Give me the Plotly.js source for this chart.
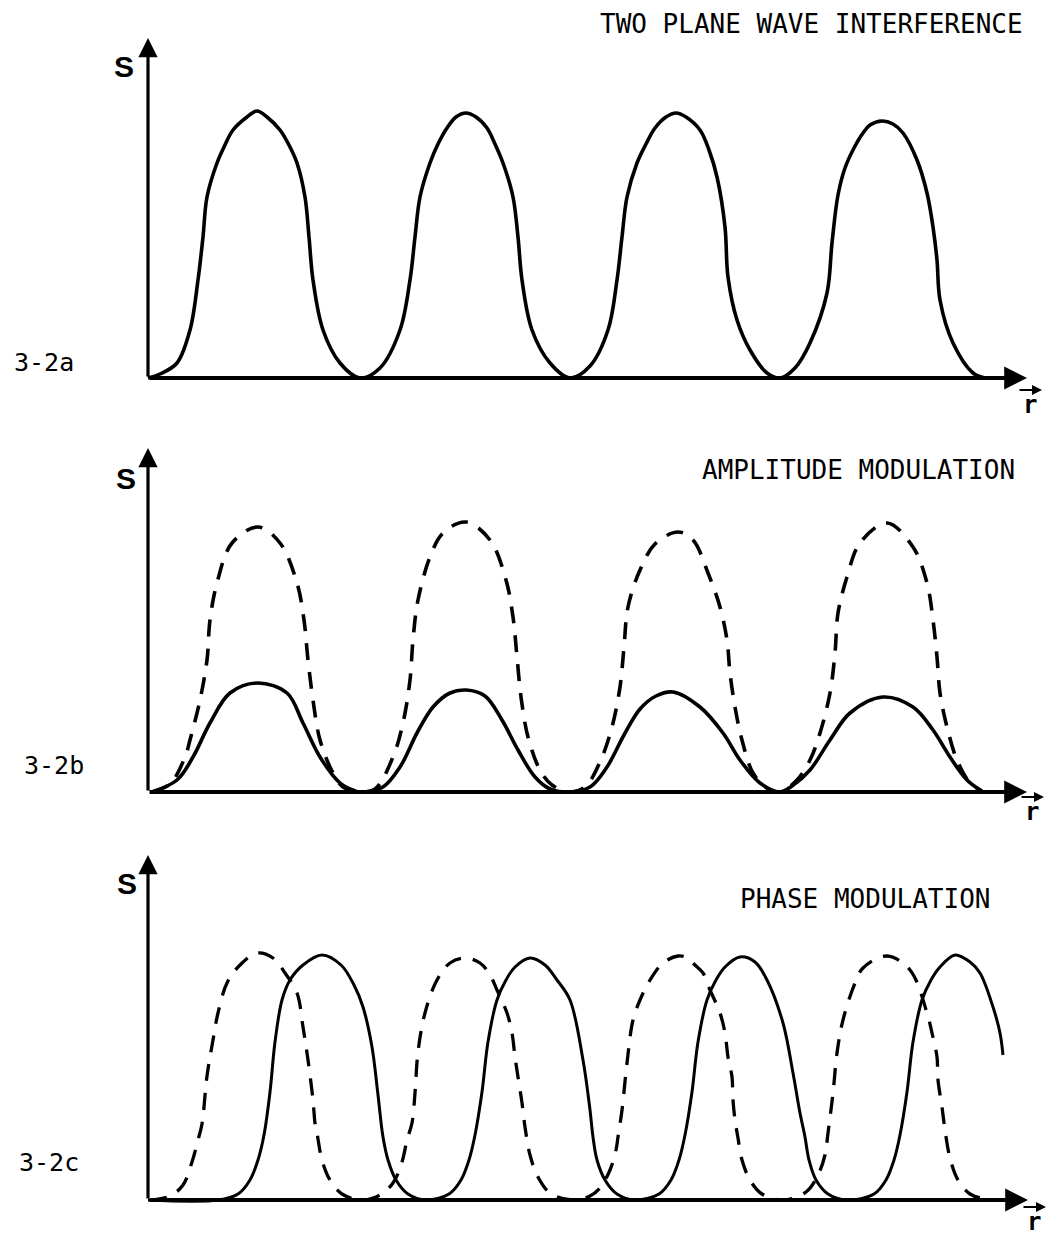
<!DOCTYPE html>
<html>
<head>
<meta charset="utf-8">
<script src="https://cdn.plot.ly/plotly-3.0.1.min.js"></script>
<style>html,body{margin:0;padding:0;background:#fff;}#chart{width:1048px;height:1238px;}</style>
</head>
<body>
<div id="chart"></div>
<script>
// ---- Data (r and S in arbitrary units) ----
// Panel 3-2a : two plane wave interference
const rA = [0,1.2,2.9,4.2,5.0,5.5,5.9,6.9,7.6,8.5,9.9,10.9,11.9,13.2,14.2,14.9,15.7,16.1,16.5,17.5,19.2,21.2,
  23.2,25.2,26.2,26.7,27.2,28.2,29.0,29.9,30.8,31.8,32.8,33.9,34.7,35.5,36.5,37.0,37.4,38.4,40.2,42.2,
  44.2,46.0,46.9,47.4,47.9,48.9,49.8,50.7,51.8,52.8,53.8,55.2,56.1,56.9,57.7,58.0,58.9,60.2,61.9,63.2,
  64.7,66.2,67.9,68.4,69.0,69.7,70.6,71.5,72.2,73.4,74.5,75.5,76.9,77.9,78.5,78.9,79.2,80.5,82.5,83.7];
const sA = [0,0.4,1.5,4.8,9.8,14.1,18.1,21.5,23.1,24.8,26.1,26.7,26.1,24.8,23.1,21.5,18.1,14.1,9.8,4.8,1.5,0,
  1.0,4.8,9.8,14.1,18.1,21.5,23.4,25.0,26.1,26.5,26.1,25.0,23.4,21.5,18.1,14.1,9.8,4.8,1.5,0,
  1.2,4.8,9.8,14.1,18.1,21.5,23.4,25.0,26.1,26.5,26.1,24.8,22.8,20.1,15.1,10.1,5.8,2.8,0.5,0,
  1.0,3.5,8.5,13.5,18.3,21.0,23.0,24.5,25.3,25.7,25.4,24.5,21.8,18.5,15.1,11.8,7.8,3.5,0.5,0];

// Panel 3-2b : amplitude modulation (dashed = unmodulated, solid = modulated)
const rBdash = [0.4,2.2,3.7,4.2,5.2,5.9,6.2,6.9,8.4,11.0,13.2,14.9,15.6,16.0,16.5,17.2,18.5,19.5,21.2,
  22.7,24.5,25.5,26.2,26.5,27.0,28.2,29.5,31.8,34.2,35.8,36.5,36.9,37.3,38.0,39.2,40.4,42.2,
  43.7,45.2,46.4,47.2,47.6,48.0,49.2,50.7,53.0,54.5,56.0,57.2,57.9,58.2,58.7,59.4,60.5,61.9,63.2,
  64.9,66.2,67.2,68.2,68.7,69.0,69.9,71.2,73.9,76.5,77.9,78.5,78.9,79.2,79.9,80.9,82.2,83.2,83.5];
const sBdash = [0,0.8,3.5,5.2,9.2,13.2,17.2,20.9,24.9,26.5,24.9,20.9,17.2,13.2,9.2,5.2,1.9,0.5,0,
  0.3,3.5,6.9,11.2,15.2,19.2,23.5,25.9,27.0,25.2,21.2,17.5,13.5,9.5,5.5,2.2,0.7,0,
  0.5,3.0,6.5,10.5,14.5,18.5,22.2,24.8,26.0,25.2,21.9,18.5,15.2,11.9,8.5,5.2,1.9,0.4,0,
  1.2,3.2,5.9,9.9,13.9,17.9,21.5,24.9,26.9,24.5,20.9,17.2,13.5,9.9,6.5,3.2,0.9,0.2,0];
const rBsolid = [0.4,2.9,4.5,6.2,8.2,11.0,13.9,15.5,17.2,19.2,20.5,21.2,
  23.5,25.2,26.9,28.5,30.2,31.8,33.7,35.4,37.0,38.7,40.2,42.0,
  44.2,45.9,47.6,49.2,50.8,52.5,55.2,57.5,59.2,61.2,63.2,
  64.4,66.2,68.2,70.2,73.5,76.5,78.5,80.2,81.9,83.2,83.5];
const sBsolid = [0,1.2,3.5,6.9,9.9,10.9,9.9,6.9,3.5,0.9,0.2,0,
  0.5,2.5,5.9,8.5,9.9,10.2,9.6,7.2,4.2,1.5,0.3,0,
  0.5,2.5,5.7,8.3,9.6,10.0,8.5,5.9,3.2,0.9,0,
  0.6,2.2,5.2,7.9,9.5,8.5,6.2,3.5,1.2,0.2,0];

// Panel 3-2c : phase modulation (dashed = reference, solid = shifted)
const rCdash = [0.2,2.2,3.5,4.4,5.0,5.4,5.9,6.5,7.0,7.9,9.2,10.9,12.5,13.7,14.9,15.5,16.0,16.5,16.7,16.9,17.4,18.2,19.4,21.4,
  23.2,24.5,25.4,25.9,26.4,26.7,27.0,27.7,28.9,30.2,31.7,33.2,34.2,34.9,35.9,36.4,36.7,37.0,37.4,37.7,38.2,39.0,40.2,42.4,
  44.2,45.2,46.2,46.8,47.0,47.4,47.9,48.5,49.2,50.2,51.5,53.0,54.0,54.7,55.5,56.2,57.2,57.7,58.0,58.4,58.5,58.7,59.0,59.4,60.2,61.4,63.5,
  65.8,67.0,67.7,68.0,68.5,68.9,69.5,70.7,71.5,73.9,76.2,77.9,78.4,78.9,79.0,79.4,79.7,80.2,81.0,82.2,84.2];
const sCdash = [0,0.4,1.5,3.8,6.0,7.6,12.4,16.0,18.7,21.7,23.5,24.7,24.2,22.7,20.7,17.3,14.0,10.0,7.7,6.7,4.0,2.0,0.6,0,
  0.5,1.7,3.8,6.0,7.7,10.7,14.8,18.7,22.0,23.7,24.2,23.7,22.5,21.0,18.7,16.7,14.3,12.3,9.7,7.3,4.5,2.3,0.7,0,
  0.4,1.2,3.0,5.0,6.3,9.0,13.7,18.0,20.0,22.0,23.7,24.4,24.2,23.5,22.7,21.0,18.7,16.7,14.3,12.3,10.0,8.0,6.2,4.0,2.0,0.6,0,
  0.8,2.5,4.5,6.7,10.7,14.7,18.0,21.7,23.2,24.4,23.0,18.7,16.7,14.3,12.0,9.3,7.0,4.2,2.0,0.6,0];
const rCsolid = [0,7.0,9.0,10.2,11.0,11.6,12.2,12.7,13.4,14.2,15.5,17.4,19.3,20.6,21.5,22.4,23.0,23.5,24.0,24.8,26.0,27.8,
  30.1,31.3,32.1,32.7,33.4,34.0,34.9,35.8,36.7,38.2,39.7,40.9,42.2,43.5,44.2,44.5,44.9,45.7,46.9,48.7,
  51.1,52.3,53.1,53.7,54.4,55.0,55.9,56.8,57.7,59.2,60.7,61.9,63.5,64.5,65.2,65.7,66.1,66.8,68.0,69.9,
  72.6,73.8,74.6,75.2,75.9,76.5,77.4,78.3,79.2,80.7,82.2,83.2,84.5,85.2,85.5];
const sCsolid = [0,0,0.6,2.0,4.0,6.5,10.8,15.8,20.0,22.0,23.5,24.5,23.5,21.5,19.3,15.3,10.5,6.3,4.0,2.0,0.6,0,
  0.6,2.0,4.0,6.5,10.8,15.8,20.0,22.0,23.3,24.2,23.5,22.0,20.0,14.0,9.0,6.3,4.0,2.0,0.6,0,
  0.6,2.0,4.0,6.5,10.8,15.8,20.0,22.0,23.3,24.3,23.8,22.0,17.7,12.7,8.7,6.3,4.0,2.0,0.6,0,
  0.6,2.0,4.0,6.5,10.8,15.8,20.0,22.0,23.3,24.5,23.8,22.7,19.3,16.7,14.5];

// Axis extents (arrow tips) per panel
const axTipR = [87.9, 87.9, 88.0];
const axTipS = [34.0, 34.4, 34.5];

// Texts
const titles = ["TWO PLANE WAVE INTERFERENCE", "AMPLITUDE MODULATION", "PHASE MODULATION"];
const panelLabels = ["3-2a", "3-2b", "3-2c"];
const yLabel = "S";
const xLabel = "r";

// ---- Layout helpers (pixel placement) ----
const W = 1048, H = 1238;
const px = x => x / W;
const py = y => 1 - y / H;
function yAxis(basePx, topPx, botPx) {
  return {
    domain: [1 - botPx / H, 1 - topPx / H],
    range: [(basePx - botPx) / 10, (basePx - topPx) / 10],
    visible: false, showgrid: false, zeroline: false, fixedrange: true
  };
}
function xAxis(anchor) {
  return { domain: [0, 1], range: [-14.8, 90], anchor: anchor,
    visible: false, showgrid: false, zeroline: false, fixedrange: true };
}

const solid = { color: '#000', width: 3.6, shape: 'spline', smoothing: 1 };
const dashed = { color: '#000', width: 3.6, shape: 'spline', smoothing: 1, dash: '17px,12px' };

const traces = [
  { x: rA, y: sA, xaxis: 'x', yaxis: 'y', mode: 'lines', line: solid, hoverinfo: 'skip' },
  { x: rBdash, y: sBdash, xaxis: 'x2', yaxis: 'y2', mode: 'lines', line: dashed, hoverinfo: 'skip' },
  { x: rBsolid, y: sBsolid, xaxis: 'x2', yaxis: 'y2', mode: 'lines', line: solid, hoverinfo: 'skip' },
  { x: rCdash, y: sCdash, xaxis: 'x3', yaxis: 'y3', mode: 'lines', line: Object.assign({}, dashed, {width: 3.3}), hoverinfo: 'skip' },
  { x: rCsolid, y: sCsolid, xaxis: 'x3', yaxis: 'y3', mode: 'lines', line: Object.assign({}, solid, {width: 3}), hoverinfo: 'skip' }
];

const axIds = [['x', 'y'], ['x2', 'y2'], ['x3', 'y3']];
const annotations = [];
axIds.forEach((ids, i) => {
  annotations.push({ xref: ids[0], yref: ids[1], axref: ids[0], ayref: ids[1],
    x: axTipR[i], y: 0, ax: 0, ay: 0, text: '', showarrow: true,
    arrowhead: 2, arrowsize: 1.2, arrowwidth: 3.8, arrowcolor: '#000', standoff: 0 });
  annotations.push({ xref: ids[0], yref: ids[1], axref: ids[0], ayref: ids[1],
    x: 0, y: axTipS[i], ax: 0, ay: 0, text: '', showarrow: true,
    arrowhead: 2, arrowsize: 1.2, arrowwidth: 3.2, arrowcolor: '#000', standoff: 0 });
});

const mono = { family: 'DejaVu Sans Mono', size: 26, color: '#000' };
const titlePos = [[1025, 24], [1017, 470], [992, 899]];
titles.forEach((t, i) => annotations.push({ xref: 'paper', yref: 'paper',
  x: px(titlePos[i][0]), y: py(titlePos[i][1]), xanchor: 'right', yanchor: 'middle',
  text: t, showarrow: false, font: mono }));
const labPos = [[12, 362], [22, 765], [17, 1162]];
panelLabels.forEach((t, i) => annotations.push({ xref: 'paper', yref: 'paper',
  x: px(labPos[i][0]), y: py(labPos[i][1]), xanchor: 'left', yanchor: 'middle',
  text: t, showarrow: false, font: { family: 'DejaVu Sans Mono', size: 25, color: '#000' } }));
const sPos = [[124, 66], [126, 479], [127, 883]];
sPos.forEach(p => annotations.push({ xref: 'paper', yref: 'paper',
  x: px(p[0]), y: py(p[1]), xanchor: 'center', yanchor: 'middle',
  text: '<b>' + yLabel + '</b>', showarrow: false,
  font: { family: 'Liberation Sans', size: 30, color: '#000' } }));
const rPos = [[1030, 390, 405], [1032, 797, 812], [1034, 1207, 1222]];
rPos.forEach(p => {
  annotations.push({ xref: 'paper', yref: 'paper', x: px(p[0]), y: py(p[2]),
    xanchor: 'center', yanchor: 'middle', text: '<b>' + xLabel + '</b>', showarrow: false,
    font: { family: 'DejaVu Sans Mono', size: 24, color: '#000' } });
  annotations.push({ xref: 'paper', yref: 'paper', x: px(p[0] + 12), y: py(p[1]),
    ax: -24, ay: 0, text: '', showarrow: true, arrowhead: 2, arrowsize: 1,
    arrowwidth: 2, arrowcolor: '#000', standoff: 0 });
});

const layout = {
  width: W, height: H,
  margin: { l: 0, r: 0, t: 0, b: 0, pad: 0 },
  paper_bgcolor: '#fff', plot_bgcolor: '#fff',
  showlegend: false,
  xaxis: xAxis('y'), xaxis2: xAxis('y2'), xaxis3: xAxis('y3'),
  yaxis: Object.assign(yAxis(378, 0, 400), { anchor: 'x' }),
  yaxis2: Object.assign(yAxis(792, 405, 815), { anchor: 'x2' }),
  yaxis3: Object.assign(yAxis(1200, 820, 1238), { anchor: 'x3' }),
  annotations: annotations
};

Plotly.newPlot('chart', traces, layout, { displayModeBar: false, staticPlot: true });
</script>
</body>
</html>
